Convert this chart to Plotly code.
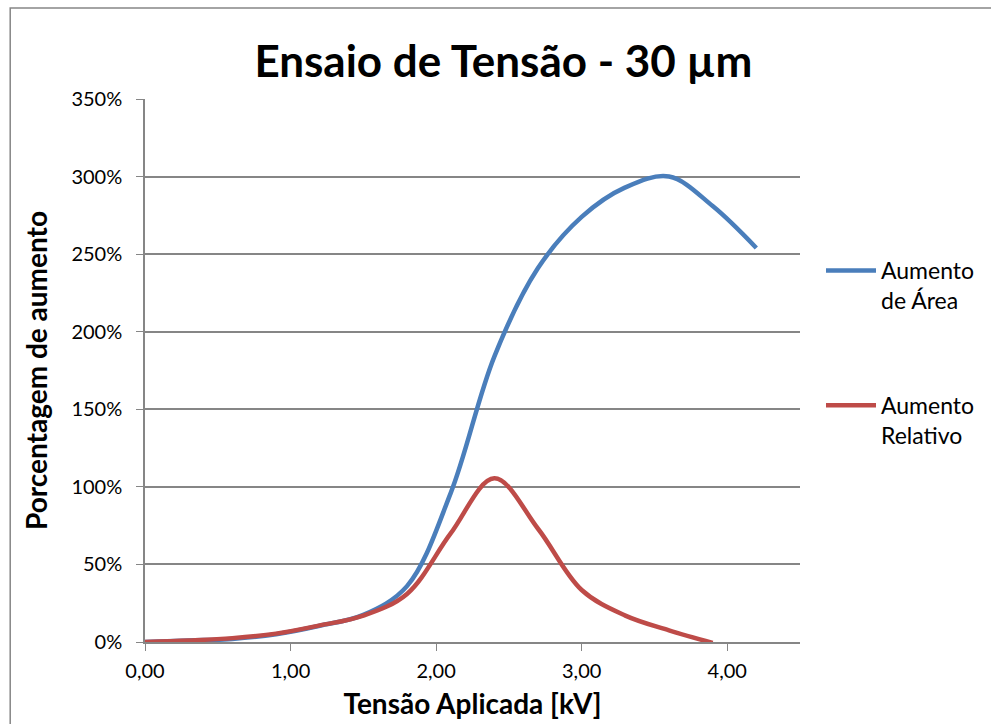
import plotly.graph_objects as go

# Data
tensao_area = [0.0, 0.3, 0.6, 0.9, 1.2, 1.5, 1.8, 2.1, 2.4, 2.7, 3.0, 3.3, 3.6, 3.9, 4.2]
aumento_area = [0.0, 0.01, 0.02, 0.05, 0.105, 0.175, 0.36, 0.96, 1.84, 2.41, 2.74, 2.93, 3.00, 2.81, 2.54]

tensao_rel = [0.0, 0.3, 0.6, 0.9, 1.2, 1.5, 1.8, 2.1, 2.4, 2.7, 3.0, 3.3, 3.6, 3.9]
aumento_rel = [0.0, 0.01, 0.025, 0.054, 0.107, 0.17, 0.31, 0.70, 1.055, 0.73, 0.335, 0.17, 0.075, -0.006]

x_ticks = [0, 1, 2, 3, 4]
x_tick_labels = ["0,00", "1,00", "2,00", "3,00", "4,00"]
y_ticks = [0, 0.5, 1.0, 1.5, 2.0, 2.5, 3.0, 3.5]
y_tick_labels = ["0%", "50%", "100%", "150%", "200%", "250%", "300%", "350%"]

FONT = "Lato"

fig = go.Figure()
fig.add_trace(go.Scatter(
    x=tensao_area, y=aumento_area, mode="lines",
    name="Aumento<br>de Área", legendgroup="a",
    line=dict(color="#4A7EBB", width=4.5, shape="spline", smoothing=1.0),
))
fig.add_trace(go.Scatter(
    x=tensao_rel, y=aumento_rel, mode="lines",
    name="Aumento<br>Relativo", legendgroup="b",
    line=dict(color="#BE4B48", width=4.5, shape="spline", smoothing=1.0),
))

fig.update_layout(
    width=991, height=724,
    margin=dict(l=145, r=190, t=99, b=82),
    paper_bgcolor="white", plot_bgcolor="white",
    font=dict(family=FONT, color="black", size=20),
    title=dict(text="<b>Ensaio de Tensão - 30 µm</b>", x=0.508, xanchor="center",
               y=1 - 62 / 724, yanchor="middle",
               font=dict(size=44, family=FONT, color="black")),
    showlegend=True,
    legend=dict(x=(821 - 145) / 656, xanchor="left", y=(642 - 249) / 543, yanchor="top",
                font=dict(size=23, family=FONT), valign="top",
                tracegroupgap=72, traceorder="grouped",
                bgcolor="rgba(0,0,0,0)", itemwidth=50),
    xaxis=dict(range=[0, 4.5], tickvals=x_ticks, ticktext=x_tick_labels,
               automargin=False,
               showgrid=False, zeroline=False, showline=True, linecolor="#868686",
               linewidth=1.5, ticks="outside", ticklen=7, tickcolor="#868686",
               tickfont=dict(size=20), ticklabelstandoff=3,
               title=dict(text="<b>Tensão Aplicada [kV]</b>", font=dict(size=28), standoff=14)),
    yaxis=dict(range=[0, 3.5], tickvals=y_ticks, ticktext=y_tick_labels,
               automargin=False,
               showgrid=True, gridcolor="#868686", gridwidth=1.5, zeroline=False,
               showline=True, linecolor="#868686", linewidth=1.5,
               ticks="outside", ticklen=7, tickcolor="#868686",
               tickfont=dict(size=20), ticklabelstandoff=10,
               title=dict(text="<b>Porcentagem de aumento</b>", font=dict(size=28), standoff=16)),
)

# Outer chart-area border (left and top visible in the reference)
fig.add_shape(type="rect", xref="paper", yref="paper",
              x0=(10 - 145) / 656, x1=(995 - 145) / 656,
              y0=-(740 - 642) / 543, y1=(642 - 8) / 543,
              line=dict(color="#868686", width=1.5), fillcolor="rgba(0,0,0,0)", layer="below")

fig.write_html("out.html")
